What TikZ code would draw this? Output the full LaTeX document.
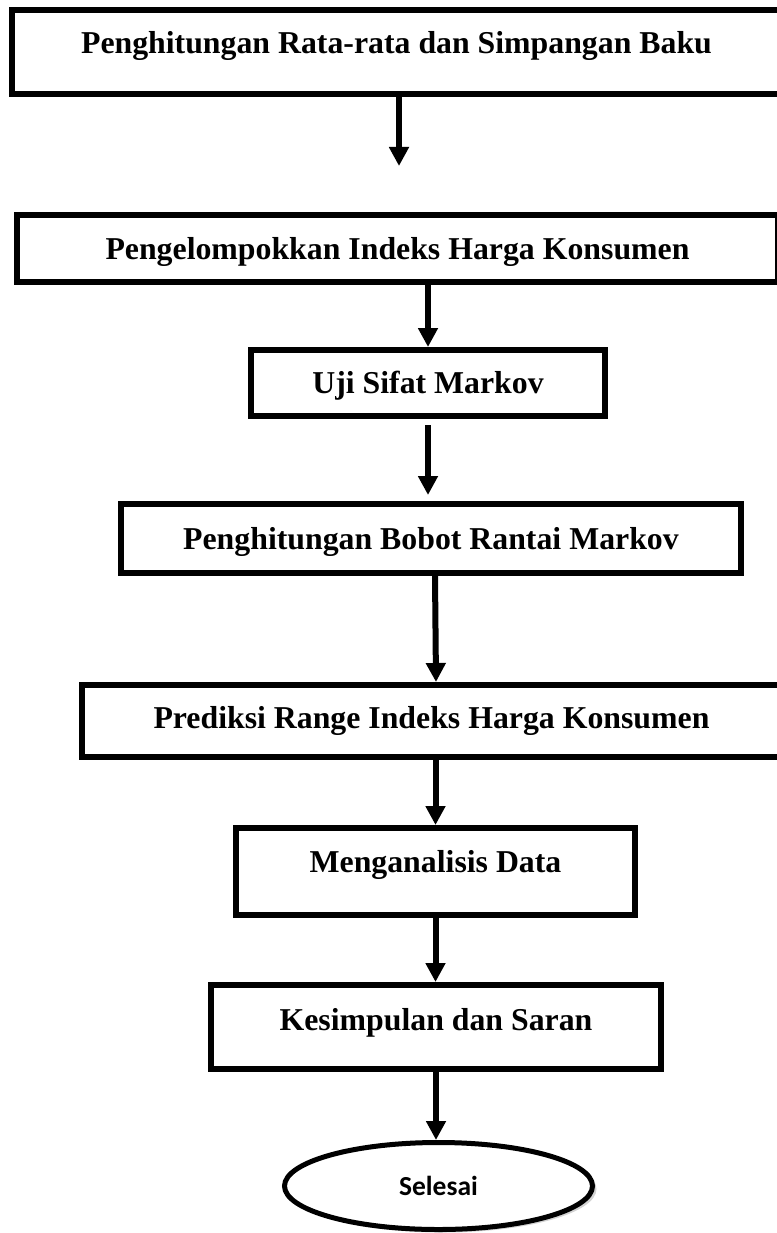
\documentclass[tikz,border=0pt]{standalone}
\usepackage{fontspec}
\setmainfont{Liberation Serif}
\newfontfamily\selesaifont{Carlito}
\usetikzlibrary{arrows.meta}
\usetikzlibrary{shapes.geometric}
\usetikzlibrary{shadows}

\tikzset{
    stage/.style={draw, line width=6pt, inner sep=0pt,
        font=\bfseries\fontsize{31.8}{38}\selectfont, text height=21pt, text depth=7pt},
    lift/.style={text depth=#1},
    flow/.style={line width=6pt, -{Triangle[width=19pt,length=19pt]}},
}

\begin{document}
\begin{tikzpicture}[x=1pt, y=-1pt]
    \useasboundingbox (0,0) rectangle (776,1233);
    \node [stage, lift=18pt, minimum width=769pt, minimum height=84pt] (mean) at (396.5,52) {Penghitungan Rata-rata dan Simpangan Baku};
    \node [stage, lift=0pt, minimum width=761pt, minimum height=67pt] (grp) at (397.5,248.5) {Pengelompokkan Indeks Harga Konsumen};
    \node [stage, lift=0pt, minimum width=354pt, minimum height=66pt] (uji) at (428,383) {Uji Sifat Markov};
    \node [stage, lift=0pt, minimum width=620pt, minimum height=69pt] (bobot) at (431,538.5) {Penghitungan Bobot Rantai Markov};
    \node [stage, minimum width=699pt, minimum height=72pt] (pred) at (431.5,721) {Prediksi Range Indeks Harga Konsumen};
    \node [stage, lift=19pt, minimum width=399pt, minimum height=87pt] (anal) at (435.5,871.5) {Menganalisis Data};
    \node [stage, lift=14pt, minimum width=450pt, minimum height=84pt] (simp) at (436,1027) {Kesimpulan dan Saran};
    \node [draw, ellipse, line width=5pt, fill=white, inner sep=0pt, minimum width=308pt, minimum height=87pt,
        drop shadow={shadow xshift=4pt, shadow yshift=-3pt, opacity=.35},
        font=\selesaifont\bfseries\fontsize{27.5}{33}\selectfont] (end) at (438.5,1186) {Selesai};
    \coordinate (gap1) at (399,166);
    \draw [flow] (mean.south -| gap1) -- (gap1);
    \draw [flow] (grp.south -| uji.north) -- (uji.north);
    \draw [flow] ([yshift=-6pt]uji.south) -- ([yshift=6pt]uji.south |- bobot.north);
    \draw [flow] ([xshift=4pt]bobot.south) -- ([xshift=4.5pt]pred.north);
    \draw [flow] (pred.south -| anal.north) -- (anal.north);
    \draw [flow] (anal.south) -- (anal.south |- simp.north);
    \draw [flow] (simp.south) -- (simp.south |- end.north);
\end{tikzpicture}
\end{document}
